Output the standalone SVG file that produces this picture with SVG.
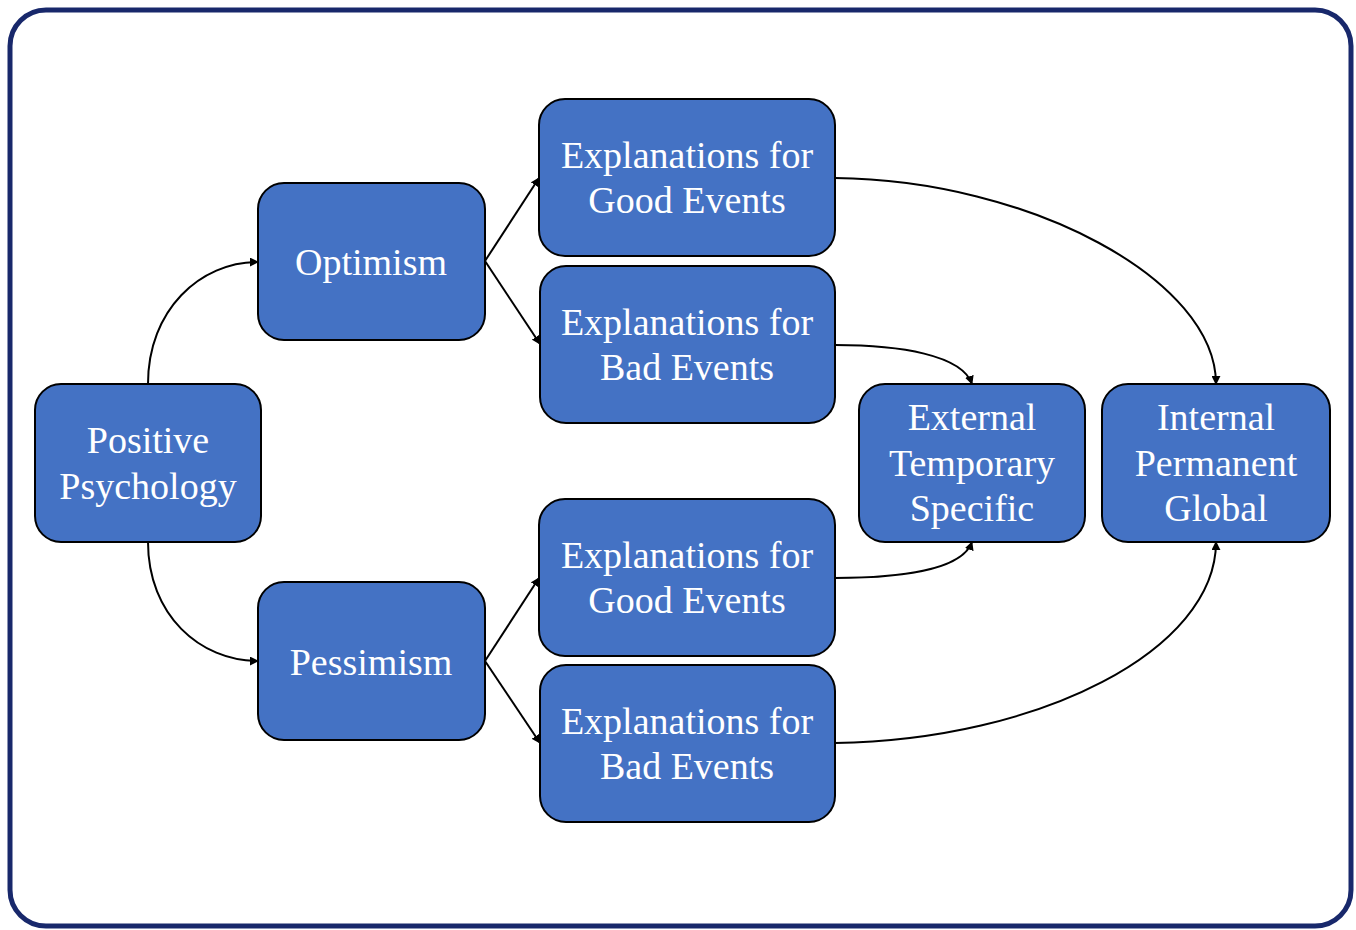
<svg xmlns="http://www.w3.org/2000/svg" width="1356" height="930" viewBox="0 0 1356 930">
<style>
.node rect{fill:#4472c4;stroke:#000;stroke-width:2}
.node text{fill:#fff;font-family:"Liberation Serif","Times New Roman",serif;font-size:38px;text-anchor:middle}
.conn path{fill:none;stroke:#000;stroke-width:2;marker-end:url(#ah)}
</style>
<defs>
<marker id="ah" viewBox="0 0 10 10" refX="9" refY="5" markerWidth="4.5" markerHeight="4.5" orient="auto" markerUnits="strokeWidth">
<path d="M0,0 L10,5 L0,10 z" fill="#000"/>
</marker>
</defs>
<rect x="10" y="10" width="1341" height="916" rx="36" fill="#fff" stroke="#18286b" stroke-width="5"/>
<g class="conn">
<path d="M148,384 C148,310 200,262 258,262"/>
<path d="M148,542 C148,615 200,661 258,661"/>
<path d="M485,261 L539,178"/>
<path d="M485,261 L540,344"/>
<path d="M485,661 L539,578"/>
<path d="M485,661 L540,743"/>
<path d="M835,178 C1030,180 1216,280 1216,384"/>
<path d="M835,345 C900,345 962,355 972,384"/>
<path d="M835,578 C900,578 962,570 972,542"/>
<path d="M835,743 C1040,740 1216,650 1216,542"/>
</g>
<g id="positive" class="node"><rect x="35" y="384" width="226" height="158" rx="26"/><text x="148" y="453">Positive</text><text x="148" y="499">Psychology</text></g>
<g id="optimism" class="node"><rect x="258" y="183" width="227" height="157" rx="26"/><text x="371" y="275">Optimism</text></g>
<g id="pessimism" class="node"><rect x="258" y="582" width="227" height="158" rx="26"/><text x="371" y="675">Pessimism</text></g>
<g id="opt-good" class="node"><rect x="539" y="99" width="296" height="157" rx="26"/><text x="687" y="168">Explanations for</text><text x="687" y="213">Good Events</text></g>
<g id="opt-bad" class="node"><rect x="540" y="266" width="295" height="157" rx="26"/><text x="687" y="335">Explanations for</text><text x="687" y="380">Bad Events</text></g>
<g id="pes-good" class="node"><rect x="539" y="499" width="296" height="157" rx="26"/><text x="687" y="568">Explanations for</text><text x="687" y="613">Good Events</text></g>
<g id="pes-bad" class="node"><rect x="540" y="665" width="295" height="157" rx="26"/><text x="687" y="734">Explanations for</text><text x="687" y="779">Bad Events</text></g>
<g id="external" class="node"><rect x="859" y="384" width="226" height="158" rx="26"/><text x="972" y="430">External</text><text x="972" y="476">Temporary</text><text x="972" y="521">Specific</text></g>
<g id="internal" class="node"><rect x="1102" y="384" width="228" height="158" rx="26"/><text x="1216" y="430">Internal</text><text x="1216" y="476">Permanent</text><text x="1216" y="521">Global</text></g>
</svg>
